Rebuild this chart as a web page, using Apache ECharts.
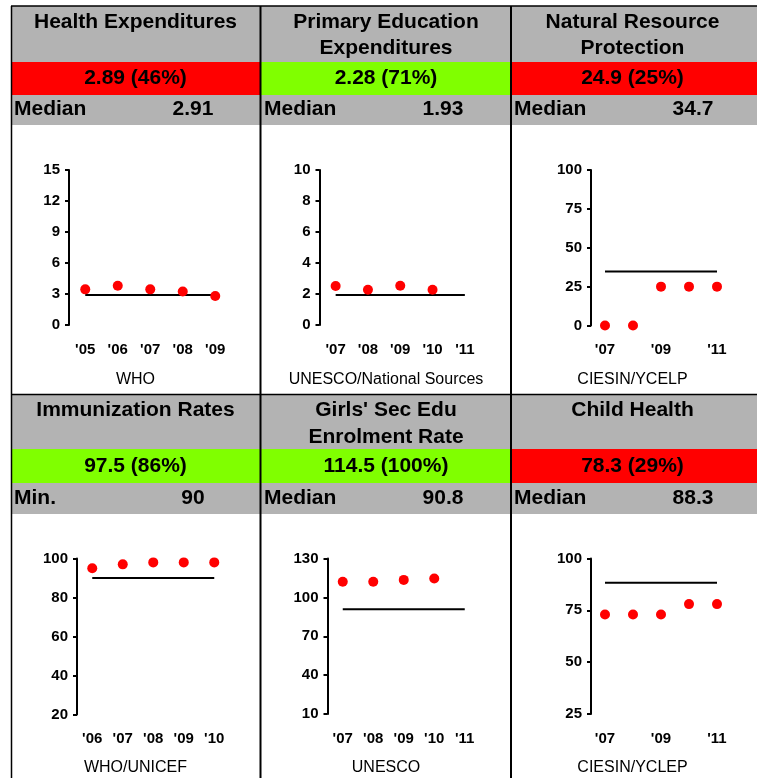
<!DOCTYPE html>
<html>
<head>
<meta charset="utf-8">
<script src="https://cdn.jsdelivr.net/npm/echarts@6/dist/echarts.min.js"></script>
<style>
html,body{margin:0;padding:0;background:#fff;}
#chart{width:757px;height:778px;}
</style>
</head>
<body>
<div id="chart"></div>
<script>
// ---------- DATA ----------
const titles = [
  "Health Expenditures",
  "Primary Education\nExpenditures",
  "Natural Resource\nProtection",
  "Immunization Rates",
  "Girls' Sec Edu\nEnrolment Rate",
  "Child Health"
];
const scoreTexts = ["2.89 (46%)", "2.28 (71%)", "24.9 (25%)", "97.5 (86%)", "114.5 (100%)", "78.3 (29%)"];
const scoreStatus = ["fail", "pass", "fail", "pass", "pass", "fail"];
const refLabels = ["Median", "Median", "Median", "Min.", "Median", "Median"];
const refValues = [2.91, 1.93, 34.7, 90, 90.8, 88.3];
const sources = ["WHO", "UNESCO/National Sources", "CIESIN/YCELP", "WHO/UNICEF", "UNESCO", "CIESIN/YCLEP"];

const healthYears = ["'05", "'06", "'07", "'08", "'09"];
const healthValues = [3.45, 3.8, 3.45, 3.25, 2.8];

const eduYears = ["'07", "'08", "'09", "'10", "'11"];
const eduValues = [2.52, 2.27, 2.53, 2.27, null];

const natYears = ["'07", "'08", "'09", "'10", "'11"];
const natValues = [0, 0, 25, 25, 25];

const immYears = ["'06", "'07", "'08", "'09", "'10"];
const immValues = [95, 97, 98, 98, 98];

const girlsYears = ["'07", "'08", "'09", "'10", "'11"];
const girlsValues = [112, 112, 113.5, 114.5, null];

const childYears = ["'07", "'08", "'09", "'10", "'11"];
const childValues = [73, 73, 73, 78, 78];

const yTicks = [
  [0, 3, 6, 9, 12, 15],
  [0, 2, 4, 6, 8, 10],
  [0, 25, 50, 75, 100],
  [20, 40, 60, 80, 100],
  [10, 40, 70, 100, 130],
  [25, 50, 75, 100]
];

const categories = [healthYears, eduYears, natYears, immYears, girlsYears, childYears];
const values = [healthValues, eduValues, natValues, immValues, girlsValues, childValues];

// ---------- LAYOUT ----------
const FONT = '"Liberation Sans", Arial, Helvetica, sans-serif';
const GRAY = '#B3B3B3';
const RED = '#FF0000';
const GREEN = '#80FF00';
const colX = [11, 261, 511];
const colW = [249, 250, 246];
const rows = [
  {top: 6, titleH: 56, bandH: 33, medH: 30, title1: 22, lineGap: 26, band: 78.5, med: 109.5, src: 380},
  {top: 394.5, titleH: 54.5, bandH: 34, medH: 31, title1: 410.5, lineGap: 26.5, band: 466.5, med: 498, src: 768}
];
const grids = [
  {left: 69, top: 170, width: 162.5, height: 155},
  {left: 319.5, top: 170, width: 161.5, height: 155},
  {left: 591, top: 170, width: 140, height: 155.5},
  {left: 77, top: 558.5, width: 152.5, height: 156},
  {left: 327.5, top: 558.5, width: 152.5, height: 155.5},
  {left: 591, top: 558.5, width: 140, height: 155.5}
];
const labelIntervals = [0, 0, 1, 0, 0, 1];

const graphics = [];
for (let i = 0; i < 6; i++) {
  const r = rows[Math.floor(i / 3)];
  const c = i % 3;
  const x0 = colX[c], w = (c === 2 ? 757 - x0 : colW[c]);
  const cx = x0 + (c === 2 ? 121.5 : colW[c] / 2);
  graphics.push({type: 'rect', shape: {x: x0, y: r.top, width: w, height: r.titleH}, style: {fill: GRAY}, z: 1});
  graphics.push({type: 'rect', shape: {x: x0, y: r.top + r.titleH, width: w, height: r.bandH}, style: {fill: scoreStatus[i] === 'pass' ? GREEN : RED}, z: 1});
  graphics.push({type: 'rect', shape: {x: x0, y: r.top + r.titleH + r.bandH, width: w, height: r.medH}, style: {fill: GRAY}, z: 1});
  titles[i].split('\n').forEach((line, k) => {
    graphics.push({type: 'text', z: 5, style: {text: line, x: cx, y: r.title1 + k * r.lineGap, fill: '#000', font: 'bold 21px ' + FONT, textAlign: 'center', textVerticalAlign: 'middle'}});
  });
  graphics.push({type: 'text', z: 5, style: {text: scoreTexts[i], x: cx, y: r.band, fill: '#000', font: 'bold 21px ' + FONT, textAlign: 'center', textVerticalAlign: 'middle'}});
  graphics.push({type: 'text', z: 5, style: {text: refLabels[i], x: x0 + 3, y: r.med, fill: '#000', font: 'bold 21px ' + FONT, textAlign: 'left', textVerticalAlign: 'middle'}});
  graphics.push({type: 'text', z: 5, style: {text: String(refValues[i]), x: x0 + 182, y: r.med, fill: '#000', font: 'bold 21px ' + FONT, textAlign: 'center', textVerticalAlign: 'middle'}});
  graphics.push({type: 'text', z: 5, style: {text: sources[i], x: cx, y: r.src, fill: '#000', font: '16px ' + FONT, textAlign: 'center', textVerticalAlign: 'middle'}});
}
const lineStyle = {stroke: '#000', lineWidth: 1.5};
graphics.push({type: 'line', z: 10, shape: {x1: 11, y1: 6, x2: 757, y2: 6}, style: lineStyle});
graphics.push({type: 'line', z: 10, shape: {x1: 11, y1: 394.5, x2: 757, y2: 394.5}, style: lineStyle});
[11.5, 260.5, 511].forEach(x => {
  graphics.push({type: 'line', z: 10, shape: {x1: x, y1: 6, x2: x, y2: 778}, style: {stroke: '#000', lineWidth: x === 11.5 ? 1.5 : 2}});
});

const gridOpts = grids.map(g => ({left: g.left, top: g.top, width: g.width, height: g.height, containLabel: false}));
const xAxes = categories.map((cats, i) => ({
  type: 'category', gridIndex: i, data: cats, boundaryGap: true,
  axisLine: {show: false}, axisTick: {show: false}, splitLine: {show: false},
  axisLabel: {interval: labelIntervals[i], margin: 17, color: '#000', fontSize: 15, fontWeight: 'bold', fontFamily: FONT}
}));
const yAxes = yTicks.map((t, i) => ({
  type: 'value', gridIndex: i, min: t[0], max: t[t.length - 1],
  axisLine: {show: true, lineStyle: {color: '#000', width: 2}},
  axisTick: {show: true, length: 4, inside: false, lineStyle: {color: '#000', width: 2}, customValues: t},
  axisLabel: {show: true, margin: 9, color: '#000', fontSize: 15, fontWeight: 'bold', fontFamily: FONT, customValues: t},
  splitLine: {show: false}
}));

const series = [];
for (let i = 0; i < 6; i++) {
  series.push({
    type: 'line', xAxisIndex: i, yAxisIndex: i, data: categories[i].map(() => refValues[i]),
    symbol: 'none', lineStyle: {color: '#000', width: 2}, silent: true, z: 2
  });
  series.push({
    type: 'scatter', xAxisIndex: i, yAxisIndex: i, data: values[i],
    symbol: 'circle', symbolSize: 10, itemStyle: {color: RED, opacity: 1}, clip: false, z: 3
  });
}

const chart = echarts.init(document.getElementById('chart'), null, {renderer: 'canvas'});
chart.setOption({
  animation: false,
  backgroundColor: '#fff',
  grid: gridOpts,
  xAxis: xAxes,
  yAxis: yAxes,
  series: series,
  graphic: {elements: graphics}
});
</script>
</body>
</html>
